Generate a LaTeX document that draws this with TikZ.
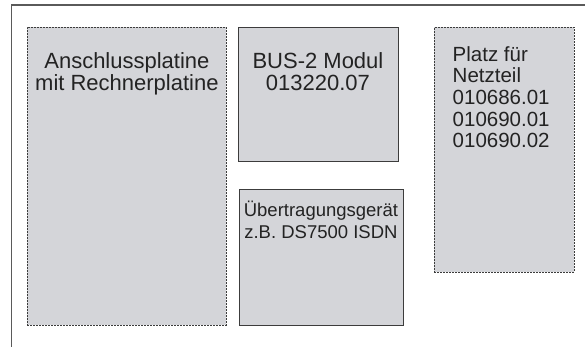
\documentclass[tikz,border=0pt]{standalone}
\usepackage{fontspec}
\setmainfont{Liberation Sans}
\usetikzlibrary{positioning}
\definecolor{boardgray}{RGB}{212,213,217}
\definecolor{edgegray}{RGB}{60,60,60}
\definecolor{framegray}{RGB}{90,90,90}
\definecolor{textgray}{RGB}{35,35,35}
\tikzset{
  slot/.style={rectangle, anchor=north west, inner sep=0pt, fill=boardgray, draw=edgegray, line width=0.8pt, dash pattern=on 2pt off 1pt},
  module/.style={rectangle, anchor=north west, inner sep=0pt, fill=boardgray, draw=edgegray, line width=0.9pt},
  caption/.style={anchor=north, align=center, inner sep=0pt, text=textgray},
  frame/.style={draw=framegray, line width=1.5pt}
}

\begin{document}
\begin{tikzpicture}[x=1pt, y=-1pt, font={\fontsize{22}{21.5}\selectfont}]
  \useasboundingbox (0,0) rectangle (585,346);

  % housing edge
  \coordinate (edgeR) at (586,5);
  \coordinate (edgeC) at (11.5,5);
  \coordinate (edgeB) at (11.5,347);
  \draw[frame] (edgeR) -- (edgeC) -- (edgeB);

  % slots and modules
  \node[slot, minimum width=199pt, minimum height=298pt] (anschluss) at (27,27) {};
  \node[module, minimum width=160pt, minimum height=133.5pt] (bus) at (237.5,27) {};
  \node[module, minimum width=164pt, minimum height=136pt] (uebertrag) at (238.5,189) {};
  \node[slot, minimum width=140pt, minimum height=244.5pt] (netz) at (434,27) {};

  \node[caption, below=25.5pt of anschluss.north] (anschlussText) {Anschlussplatine\\mit Rechnerplatine};
  \node[caption, below=25.5pt of bus.north] (busText) {BUS-2 Modul\\013220.07};
  \node[caption, below=12pt of uebertrag.north, font={\fontsize{18.5}{21.5}\selectfont}] (uebertragText) {Übertragungsgerät\\z.B. DS7500 ISDN};
  \node[caption, anchor=north west, align=left, below right=19pt and 18.5pt of netz.north west, font={\fontsize{20.5}{21.7}\selectfont}] (netzText) {Platz für\\Netzteil\\010686.01\\010690.01\\010690.02};

\end{tikzpicture}
\end{document}
